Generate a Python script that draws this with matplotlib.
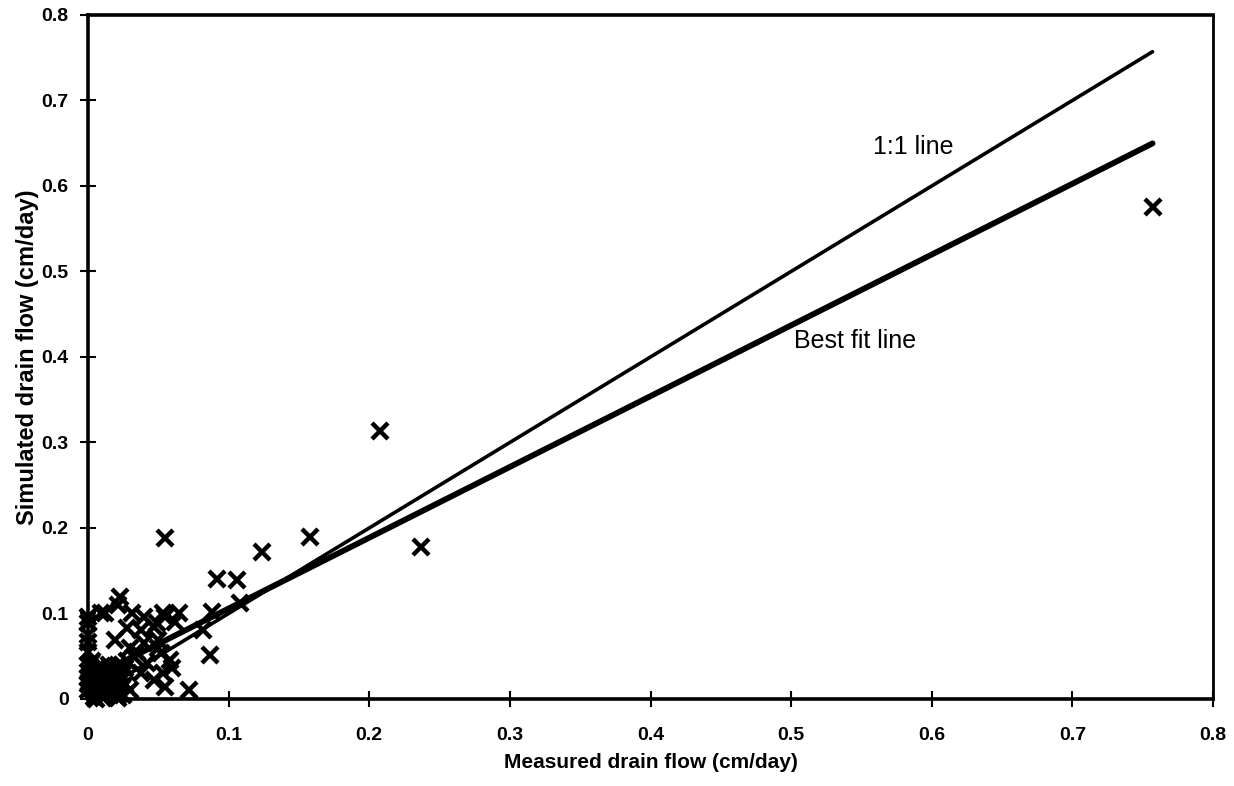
import numpy as np
import matplotlib.pyplot as plt

plt.rcParams['font.family'] = ['Liberation Sans', 'DejaVu Sans']

# measured vs simulated drain flow (cm/day)
measured = [0.757, 0.237, 0.2075, 0.158, 0.124, 0.106, 0.092, 0.055, 0.108, 0.088,
            0.082, 0.087, 0.072, 0.065, 0.053, 0.062, 0.049, 0.058, 0.060, 0.053,
            0.023, 0.009, 0.012, 0.031, 0.040, 0.055, 0.019, 0.028, 0.038, 0.047,
            0.040, 0.050, 0.033, 0.042, 0.052, 0.038, 0.047, 0.055, 0.021, 0.050,
            0.0, 0.0, 0.0, 0.0, 0.0, 0.0, 0.0, 0.0,
            0.002, 0.005, 0.008, 0.012, 0.015, 0.018, 0.022, 0.025, 0.004, 0.010,
            0.014, 0.020, 0.024, 0.003, 0.007, 0.016, 0.026, 0.030, 0.035, 0.028,
            0.006, 0.011, 0.017, 0.021, 0.001, 0.009, 0.013, 0.019, 0.023, 0.030,
            0.004, 0.008, 0.012, 0.016, 0.020, 0.024, 0.002, 0.006, 0.010, 0.014,
            0.018, 0.022, 0.026, 0.005, 0.013, 0.021, 0.0, 0.0, 0.003, 0.011]
simulated = [0.575, 0.178, 0.313, 0.190, 0.172, 0.139, 0.140, 0.188, 0.112, 0.102,
             0.081, 0.051, 0.011, 0.100, 0.100, 0.090, 0.089, 0.046, 0.036, 0.030,
             0.119, 0.100, 0.100, 0.100, 0.096, 0.096, 0.069, 0.083, 0.081, 0.084,
             0.065, 0.069, 0.049, 0.042, 0.054, 0.030, 0.022, 0.014, 0.110, 0.060,
             0.096, 0.089, 0.075, 0.067, 0.055, 0.040, 0.025, 0.010,
             0.035, 0.030, 0.020, 0.010, 0.040, 0.025, 0.015, 0.005, 0.002, 0.038,
             0.022, 0.032, 0.040, 0.012, 0.028, 0.036, 0.018, 0.060, 0.055, 0.045,
             0.000, 0.003, 0.008, 0.001, 0.020, 0.015, 0.030, 0.006, 0.026, 0.010,
             0.008, 0.016, 0.024, 0.032, 0.004, 0.028, 0.042, 0.022, 0.014, 0.034,
             0.026, 0.006, 0.036, 0.012, 0.018, 0.040, 0.032, 0.018, 0.044, 0.001]

fit_slope = 0.828
fit_intercept = 0.023
line_x = np.array([0.0, 0.757])

fig = plt.figure(figsize=(12.34, 7.86), dpi=100)
ax = fig.add_axes([0.0713, 0.1107, 0.9117, 0.8703])

ax.plot(line_x, line_x, color='black', lw=2.6, solid_capstyle='round')
ax.plot(line_x, fit_slope * line_x + fit_intercept, color='black', lw=4.2,
        solid_capstyle='round')
ax.plot(measured, simulated, 'x', color='black', ms=11, mew=3.2, clip_on=False)

ax.text(0.558, 0.646, '1:1 line', fontsize=18, va='center')
ax.text(0.502, 0.419, 'Best fit line', fontsize=18, va='center')

ax.set_xlim(0, 0.8)
ax.set_ylim(0, 0.8)
ax.set_xticks(np.arange(0, 0.81, 0.1))
ax.set_yticks(np.arange(0, 0.81, 0.1))
ax.set_xticklabels(['0', '0.1', '0.2', '0.3', '0.4', '0.5', '0.6', '0.7', '0.8'])
ax.set_yticklabels(['0', '0.1', '0.2', '0.3', '0.4', '0.5', '0.6', '0.7', '0.8'])
ax.tick_params(direction='inout', length=12, width=1.5, labelsize=14, pad=8)
for lbl in ax.get_xticklabels() + ax.get_yticklabels():
    lbl.set_fontweight('bold')
ax.tick_params(axis='x', pad=14)

for side in ['left', 'bottom', 'top']:
    ax.spines[side].set_linewidth(2.6)
ax.spines['right'].set_linewidth(2.0)

ax.set_xlabel('Measured drain flow (cm/day)', fontsize=15, fontweight='bold', labelpad=7)
ax.set_ylabel('Simulated drain flow (cm/day)', fontsize=17, fontweight='bold', labelpad=2)

plt.savefig('out.png', dpi=100)
